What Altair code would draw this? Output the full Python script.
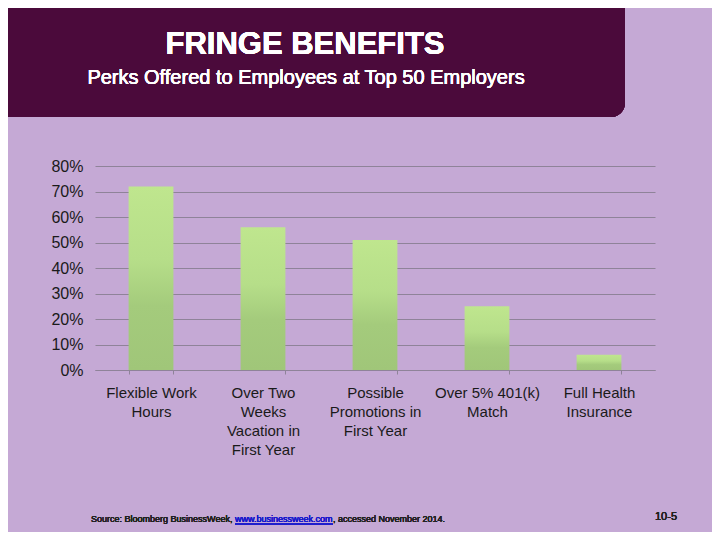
import altair as alt
import pandas as pd

# ---- data ----
categories = [
    "Flexible Work\nHours",
    "Over Two\nWeeks\nVacation in\nFirst Year",
    "Possible\nPromotions in\nFirst Year",
    "Over 5% 401(k)\nMatch",
    "Full Health\nInsurance",
]
values = [0.72, 0.56, 0.51, 0.25, 0.06]
y_ticks = [0, 0.1, 0.2, 0.3, 0.4, 0.5, 0.6, 0.7, 0.8]

title_text = "FRINGE BENEFITS"
subtitle_text = "Perks Offered to Employees at Top 50 Employers"
source_prefix = "Source: Bloomberg BusinessWeek, "
source_link = "www.businessweek.com"
source_suffix = ", accessed November 2014."
slide_number = "10-5"

df = pd.DataFrame({"category": categories, "value": values})

FONT = "Liberation Sans"
BG = "#C5A9D5"

gradient = alt.Gradient(
    gradient="linear",
    x1=0, x2=0, y1=0, y2=1,
    stops=[
        alt.GradientStop(color="#BFE68E", offset=0),
        alt.GradientStop(color="#B6DE89", offset=0.4),
        alt.GradientStop(color="#A4CB7C", offset=0.65),
        alt.GradientStop(color="#A0C679", offset=1),
    ],
)

bars = alt.Chart(df).mark_bar(color=gradient).encode(
    x=alt.X(
        "category:N",
        sort=categories,
        scale=alt.Scale(paddingInner=0.6, paddingOuter=0.3),
        axis=alt.Axis(
            title=None,
            labelAngle=0,
            labelExpr="split(datum.label, '\\n')",
            labelFont=FONT,
            labelFontSize=15,
            labelFontWeight="normal",
            labelColor="#1a1a1a",
            labelLineHeight=19,
            labelPadding=11,
            labelBaseline="top",
            tickBand="extent",
            tickSize=4,
            tickColor="#8f8399",
            domainColor="#8f8399",
            grid=False,
        ),
    ),
    y=alt.Y(
        "value:Q",
        scale=alt.Scale(domain=[0, 0.8]),
        axis=alt.Axis(
            title=None,
            values=y_ticks,
            format=".0%",
            labelFont=FONT,
            labelFontSize=16,
            labelFontWeight="normal",
            labelColor="#1a1a1a",
            labelPadding=12,
            ticks=False,
            domain=False,
            grid=True,
            gridColor="#8f8399",
            gridWidth=1,
        ),
    ),
)

header_box = alt.Chart(df).mark_rect(color="#4B0A3B", cornerRadius=14).encode(
    x=alt.value(-115), x2=alt.value(530), y=alt.value(-180), y2=alt.value(-49)
)
title = alt.Chart(df).mark_text(
    font=FONT, fontSize=31, fontWeight="bold", color="white", align="center", baseline="middle"
).encode(x=alt.value(210), y=alt.value(-121), text=alt.value(title_text))
subtitle = alt.Chart(df).mark_text(
    font=FONT, fontSize=20, fontWeight="normal", color="white", align="center", baseline="middle"
).encode(x=alt.value(211), y=alt.value(-88), text=alt.value(subtitle_text))

src1 = alt.Chart(df).mark_text(
    font=FONT, fontSize=9, fontWeight="normal", color="#222222", align="left", baseline="middle"
).encode(x=alt.value(-4), y=alt.value(353), text=alt.value(source_prefix))
src2 = alt.Chart(df).mark_text(
    font=FONT, fontSize=9, fontWeight="normal", color="#1a1acc", align="left", baseline="middle"
).encode(x=alt.value(140), y=alt.value(353), text=alt.value(source_link))
src_ul = alt.Chart(df).mark_rule(color="#1a1acc", strokeWidth=1).encode(
    x=alt.value(140), x2=alt.value(238), y=alt.value(358)
)
src3 = alt.Chart(df).mark_text(
    font=FONT, fontSize=9, fontWeight="normal", color="#222222", align="left", baseline="middle"
).encode(x=alt.value(238), y=alt.value(353), text=alt.value(source_suffix))
num = alt.Chart(df).mark_text(
    font=FONT, fontSize=11, fontWeight="normal", color="#222222", align="left", baseline="middle"
).encode(x=alt.value(560), y=alt.value(351), text=alt.value(slide_number))

chart = alt.layer(
    header_box, title, subtitle, bars, src1, src2, src_ul, src3, num
).properties(
    width=560,
    height=204,
    padding={"left": 87, "top": 158, "right": 57, "bottom": 162},
    autosize=alt.AutoSizeParams(type="none"),
    background=BG,
).configure_view(stroke=None)

chart.save("out.html", embed_options={"renderer": "svg", "actions": False})
